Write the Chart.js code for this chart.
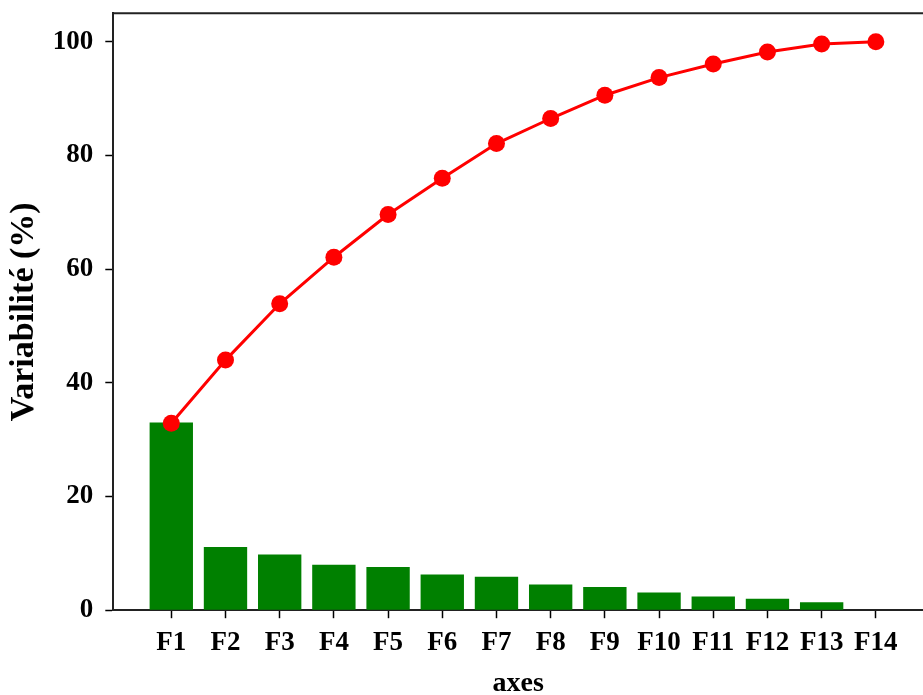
<!DOCTYPE html>
<html>
<head>
<meta charset="utf-8">
<script src="https://cdn.jsdelivr.net/npm/chart.js@4/dist/chart.umd.min.js"></script>
<style>
  html, body { margin: 0; padding: 0; background: #fff; overflow: hidden; }
  #wrap { width: 923px; height: 695px; position: relative; }
</style>
</head>
<body>
<div id="wrap"><canvas id="pcaChart"></canvas></div>
<script>
// axes factoriels et variabilité (%)
const axes = ['F1', 'F2', 'F3', 'F4', 'F5', 'F6', 'F7', 'F8', 'F9', 'F10', 'F11', 'F12', 'F13', 'F14'];
const variabilite = [33.0, 11.1, 9.8, 8.0, 7.6, 6.3, 5.9, 4.5, 4.1, 3.1, 2.4, 2.0, 1.4, 0];
const cumul = [32.9, 44.0, 53.9, 62.1, 69.6, 76.0, 82.1, 86.5, 90.6, 93.7, 96.1, 98.2, 99.6, 100];
const yTicks = [0, 20, 40, 60, 80, 100];

const serif = 'Liberation Serif, Times New Roman, serif';

// cadre du haut de la zone de tracé
const topFrame = {
    id: 'topFrame',
    afterDraw(chart) {
        const {ctx, chartArea} = chart;
        ctx.save();
        ctx.strokeStyle = '#222';
        ctx.lineWidth = 2;
        ctx.beginPath();
        ctx.moveTo(chartArea.left, chartArea.top);
        ctx.lineTo(chartArea.right, chartArea.top);
        ctx.stroke();
        ctx.restore();
    }
};

const ctx = document.getElementById('pcaChart').getContext('2d');
new Chart(ctx, {
    data: {
        datasets: [
            {
                type: 'line',
                data: cumul.map((v, i) => ({x: i, y: v})),
                borderColor: '#ff0000',
                backgroundColor: '#ff0000',
                borderWidth: 3,
                pointRadius: 8.5,
                pointBorderWidth: 0,
                pointBackgroundColor: '#ff0000',
                tension: 0,
                order: 0
            },
            {
                type: 'bar',
                data: variabilite.map((v, i) => ({x: i, y: v})),
                backgroundColor: '#008000',
                categoryPercentage: 1,
                barPercentage: 0.8,
                order: 1
            }
        ]
    },
    options: {
        responsive: true,
        maintainAspectRatio: false,
        animation: false,
        layout: {
            autoPadding: false,
            padding: {top: 0, left: 1, right: 0, bottom: 0}
        },
        plugins: {
            legend: {display: false},
            tooltip: {enabled: false}
        },
        scales: {
            x: {
                type: 'linear',
                min: -1.07,
                max: 13.87,
                offset: false,
                afterBuildTicks: s => { s.ticks = axes.map((_, i) => ({value: i})); },
                ticks: {
                    autoSkip: false,
                    maxRotation: 0,
                    padding: 9,
                    color: '#000',
                    font: {family: serif, size: 27, weight: 'bold'},
                    callback: v => axes[v]
                },
                grid: {
                    offset: false,
                    drawOnChartArea: false,
                    tickLength: 8,
                    tickWidth: 1.5,
                    tickColor: '#000'
                },
                border: {display: true, color: '#222', width: 2},
                title: {
                    display: true,
                    text: 'axes',
                    color: '#000',
                    font: {family: serif, size: 28, weight: 'bold', lineHeight: 0.8},
                    padding: {top: 4, bottom: 0}
                }
            },
            y: {
                min: 0,
                max: 105,
                afterBuildTicks: s => { s.ticks = yTicks.map(v => ({value: v})); },
                ticks: {
                    padding: 12,
                    color: '#000',
                    font: {family: serif, size: 27, weight: 'bold', lineHeight: 0.1}
                },
                grid: {
                    drawOnChartArea: false,
                    tickLength: 8,
                    tickWidth: 1.5,
                    tickColor: '#000'
                },
                border: {display: true, color: '#222', width: 2},
                title: {
                    display: true,
                    text: 'Variabilité (%)',
                    color: '#000',
                    font: {family: serif, size: 34, weight: 'bold'},
                    padding: {top: 3, bottom: -4}
                }
            }
        }
    },
    plugins: [topFrame]
});
</script>
</body>
</html>
